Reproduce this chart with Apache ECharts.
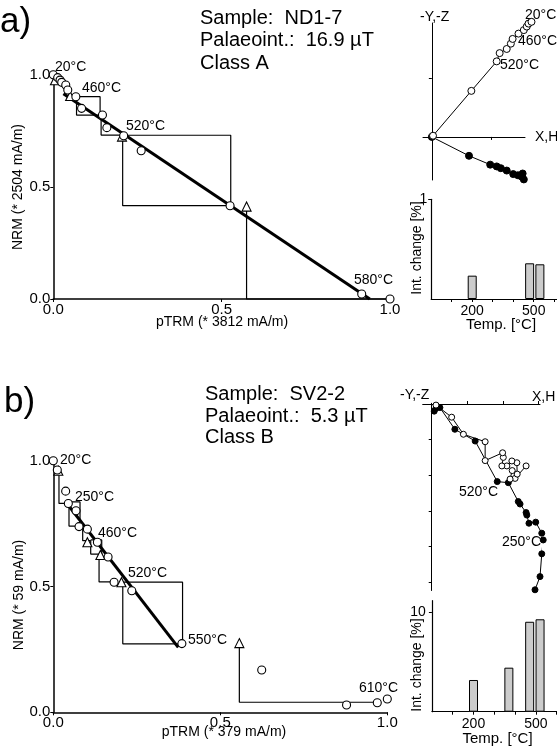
<!DOCTYPE html>
<html>
<head>
<meta charset="utf-8">
<script src="https://cdn.jsdelivr.net/npm/echarts@6/dist/echarts.min.js"></script>
<style>
  html, body { margin: 0; padding: 0; background: #fff; }
  #chart { width: 557px; height: 751px; }
</style>
</head>
<body>
<div id="chart"></div>
<script>
var FONT = '"Liberation Sans", Arial, sans-serif';

// ---------- a) ND1-7 ----------
// Arai plot, [pTRM, NRM] normalised
var araiA_points = [[0, 1.0], [0.013, 0.987], [0.020, 0.976], [0.025, 0.966], [0.037, 0.954],
  [0.043, 0.932], [0.067, 0.902], [0.084, 0.850], [0.146, 0.820], [0.159, 0.764],
  [0.209, 0.728], [0.261, 0.661], [0.525, 0.416], [0.916, 0.022], [1.0, 0.0]];
var araiA_checks = [[0.005, 0.975], [0.05, 0.905], [0.204, 0.724], [0.574, 0.412]];
var araiA_checkLines = [
  [[0, 1.0], [0, 0.975]],
  [[0.069, 0.902], [0.139, 0.902], [0.139, 0.820], [0.069, 0.820], [0.069, 0.902]],
  [[0.142, 0.820], [0.142, 0.731], [0.207, 0.731]],
  [[0.206, 0.730], [0.527, 0.730], [0.527, 0.416], [0.206, 0.416], [0.206, 0.730]],
  [[0.574, 0.411], [0.574, 0], [1.0, 0]]
];
var araiA_fit = [[0.03, 0.915], [0.94, 0.0]];
// Zijderveld, tick units
var zijA_open = [[0.02, 0.02], [0.67, 0.78], [1.10, 1.28], [1.15, 1.42], [1.27, 1.49], [1.34, 1.58],
  [1.37, 1.66], [1.47, 1.75], [1.56, 1.81], [1.61, 1.87], [1.64, 1.92], [1.69, 1.95]];
var zijA_filled = [[0, 0], [0.63, -0.32], [0.99, -0.47], [1.10, -0.50], [1.17, -0.53], [1.27, -0.57],
  [1.38, -0.63], [1.46, -0.65], [1.54, -0.62], [1.52, -0.67], [1.56, -0.72]];
// intensity change
var barA_temps = [200, 480, 530];
var barA_change = [0.234, 0.358, 0.348];

// ---------- b) SV2-2 ----------
var araiB_points = [[0, 1.0], [0.012, 0.963], [0.037, 0.879], [0.045, 0.830], [0.068, 0.801],
  [0.077, 0.738], [0.102, 0.728], [0.132, 0.676], [0.164, 0.617], [0.182, 0.517],
  [0.235, 0.483], [0.385, 0.273], [0.624, 0.168], [0.878, 0.029], [0.970, 0.038], [1.0, 0.053]];
var araiB_checks = [[0.015, 0.960], [0.102, 0.676], [0.141, 0.625], [0.204, 0.517], [0.557, 0.275]];
var araiB_checkLines = [
  [[0.017, 0.96], [0.017, 0.83], [0.045, 0.83]],
  [[0.047, 0.836], [0.080, 0.836], [0.080, 0.740], [0.047, 0.740], [0.047, 0.836]],
  [[0.088, 0.738], [0.088, 0.682], [0.110, 0.682]],
  [[0.112, 0.685], [0.145, 0.685], [0.145, 0.629], [0.112, 0.629], [0.112, 0.685]],
  [[0.137, 0.629], [0.137, 0.518], [0.185, 0.518]],
  [[0.208, 0.517], [0.387, 0.517], [0.387, 0.272], [0.208, 0.272], [0.208, 0.517]],
  [[0.557, 0.275], [0.557, 0.040], [0.970, 0.040]]
];
var araiB_fit = [[0.038, 0.835], [0.374, 0.258]];
var zijB_open = [[2.65, -1.74], [2.34, -2.09], [2.20, -2.11], [2.26, -1.87], [2.40, -1.97],
  [2.39, -1.65], [2.25, -1.60], [2.11, -1.74], [1.97, -1.74], [2.01, -1.50], [1.99, -1.37],
  [1.50, -1.59], [1.50, -1.06], [0.89, -0.85], [0.56, -0.37], [0.12, -0.03]];
var zijB_filled = [[2.90, -5.22], [3.04, -4.85], [3.09, -4.21], [3.13, -3.82], [3.09, -3.63],
  [2.92, -3.32], [2.73, -3.35], [2.67, -3.12], [2.65, -3.05], [2.48, -2.81], [2.43, -2.74],
  [2.15, -2.21], [1.84, -2.18], [1.22, -1.04], [0.65, -0.71], [0.23, -0.10], [0.07, -0.20], [0.12, -0.12]];
var barB_temps = [200, 370, 470, 520];
var barB_change = [3.19, 4.43, 9.05, 9.3];

var chart = echarts.init(document.getElementById('chart'));

function araiX(i) {
  return {
    gridIndex: i, type: 'value', min: 0, max: 1, interval: 0.5,
    axisLine: { onZero: false, lineStyle: { color: '#000', width: 1.5 } },
    axisTick: { length: 3, lineStyle: { color: '#000' } },
    axisLabel: { color: '#000', fontSize: 15, fontFamily: FONT, margin: 3, formatter: function (v) { return v.toFixed(1); } },
    splitLine: { show: false }
  };
}
function zijAxis(i, min, max, ticks, inside) {
  return {
    gridIndex: i, type: 'value', min: min, max: max,
    axisLine: { onZero: true, lineStyle: { color: '#000', width: 1 } },
    axisTick: { customValues: ticks, length: 3, inside: inside, lineStyle: { color: '#000' } },
    axisLabel: { show: false }, splitLine: { show: false }
  };
}
function barX(i, max) {
  return {
    gridIndex: i, type: 'value', min: 0, max: max,
    axisLine: { onZero: false, lineStyle: { color: '#000', width: 1.2 } },
    axisTick: { customValues: [100, 200, 300, 400, 500, 600], length: 3, lineStyle: { color: '#000' } },
    axisLabel: { customValues: [200, 500], color: '#000', fontSize: 14, fontFamily: FONT, margin: 5 },
    splitLine: { show: false }
  };
}
function barY(i, max, tick, margin) {
  return {
    gridIndex: i, type: 'value', min: 0, max: max,
    axisLine: { onZero: false, lineStyle: { color: '#000', width: 1.2 } },
    axisTick: { customValues: [tick], length: 3, lineStyle: { color: '#000' } },
    axisLabel: { customValues: [tick], color: '#000', fontSize: 14, fontFamily: FONT, margin: margin },
    splitLine: { show: false }
  };
}

function lines(g, pts, w) {
  return { type: 'line', xAxisIndex: g, yAxisIndex: g, data: pts, symbol: 'none', clip: false, silent: true,
    lineStyle: { color: '#000', width: w }, z: 2 };
}
function marks(g, pts, symbol, size, fill, z) {
  return { type: 'scatter', xAxisIndex: g, yAxisIndex: g, data: pts, symbol: symbol, symbolSize: size, clip: false,
    itemStyle: { color: fill, borderColor: '#000', borderWidth: 1.1, opacity: 1 }, z: z || 4 };
}
function zijLine(g, pts, fill, size, z) {
  return { type: 'line', xAxisIndex: g, yAxisIndex: g, data: pts, symbol: 'circle', symbolSize: size, clip: false,
    lineStyle: { color: '#000', width: 1 }, itemStyle: { color: fill, borderColor: '#000', borderWidth: 1 }, z: z };
}

var series = [];
araiA_checkLines.forEach(function (p) { series.push(lines(0, p, 1.2)); });
araiB_checkLines.forEach(function (p) { series.push(lines(1, p, 1.2)); });
series.push(lines(0, araiA_fit, 3));
series.push(lines(1, araiB_fit, 3));
series.push(marks(0, araiA_checks, 'triangle', 9, '#fff', 3));
series.push(marks(1, araiB_checks, 'triangle', 9, '#fff', 3));
series.push(marks(0, araiA_points, 'circle', 8, '#fff', 4));
series.push(marks(1, araiB_points, 'circle', 8, '#fff', 4));
series.push(zijLine(2, zijA_filled, '#000', 7, 3));
series.push(zijLine(2, zijA_open, '#fff', 7, 4));
series.push(zijLine(3, zijB_filled, '#000', 6, 3));
series.push(zijLine(3, zijB_open, '#fff', 6, 4));
series.push({ type: 'bar', xAxisIndex: 4, yAxisIndex: 4, barWidth: 9,
  data: barA_temps.map(function (t, i) { return [t, barA_change[i]]; }),
  itemStyle: { color: '#cccccc', borderColor: '#000', borderWidth: 1 } });
series.push({ type: 'bar', xAxisIndex: 5, yAxisIndex: 5, barWidth: 9,
  data: barB_temps.map(function (t, i) { return [t, barB_change[i]]; }),
  itemStyle: { color: '#cccccc', borderColor: '#000', borderWidth: 1 } });

function txt(x, y, s, size, align, rot) {
  return { type: 'text', x: x, y: y, rotation: rot || 0, silent: true,
    style: { text: s, font: size + 'px ' + FONT, fill: '#000',
      textAlign: align || 'left', align: align || 'left', textVerticalAlign: 'middle', verticalAlign: 'middle' } };
}
var R = Math.PI / 2;
var texts = [
  txt(0, 22, 'a)', 35), txt(4, 402, 'b)', 35),
  txt(200, 18, 'Sample:  ND1-7', 20), txt(200, 40, 'Palaeoint.:  16.9 µT', 20), txt(200, 63, 'Class A', 20),
  txt(205, 394, 'Sample:  SV2-2', 20), txt(205, 416, 'Palaeoint.:  5.3 µT', 20), txt(205, 437, 'Class B', 20),
  txt(18.5, 187, 'NRM (* 2504 mA/m)', 14, 'center', R), txt(222, 322, 'pTRM (* 3812 mA/m)', 14, 'center'),
  txt(19, 595, 'NRM (* 59 mA/m)', 14, 'center', R), txt(224, 732, 'pTRM (* 379 mA/m)', 14, 'center'),
  txt(55, 67, '20°C', 14), txt(82, 88, '460°C', 14), txt(126, 126, '520°C', 14), txt(354, 280, '580°C', 14),
  txt(60, 460, '20°C', 14), txt(75, 497, '250°C', 14), txt(98, 533, '460°C', 14), txt(128, 573, '520°C', 14),
  txt(188, 640, '550°C', 14), txt(359, 688, '610°C', 14),
  txt(420, 17, '-Y,-Z', 14), txt(535, 137, 'X,H', 14), txt(525, 15, '20°C', 14), txt(518, 41, '460°C', 14), txt(500, 65, '520°C', 14),
  txt(400, 395, '-Y,-Z', 14), txt(532, 397, 'X,H', 14), txt(459, 492, '520°C', 14), txt(502, 542, '250°C', 14),
  txt(417.5, 248, 'Int. change [%]', 14, 'center', R), txt(501, 325, 'Temp. [°C]', 15, 'center'),
  txt(417.5, 665, 'Int. change [%]', 14, 'center', R), txt(497.5, 739, 'Temp. [°C]', 15, 'center')
];

chart.setOption({
  animation: false,
  backgroundColor: '#fff',
  textStyle: { fontFamily: FONT },
  grid: [
    { left: 53.3, top: 74.7, width: 336.7, height: 224.3 },
    { left: 53.3, top: 460.7, width: 334, height: 251.6 },
    { left: 423, top: 23, width: 102, height: 157 },
    { left: 422.7, top: 403.3, width: 117.3, height: 187.2 },
    { left: 431.2, top: 199.3, width: 125.5, height: 99.7 },
    { left: 431.9, top: 600.7, width: 124.8, height: 111 }
  ],
  xAxis: [araiX(0), araiX(1),
    zijAxis(2, -0.15, 1.58, [1], false), zijAxis(3, -0.253, 3.04, [1, 2, 3], true),
    barX(4, 612), barX(5, 600)],
  yAxis: [araiX(0), araiX(1),
    zijAxis(2, -0.73, 1.93, [1], false), zijAxis(3, -5.24, 0.02, [-1, -2, -3, -4, -5], false),
    barY(4, 1, 1, 4), barY(5, 11.17, 10, 6)],
  series: series,
  graphic: texts
});
</script>
</body>
</html>
